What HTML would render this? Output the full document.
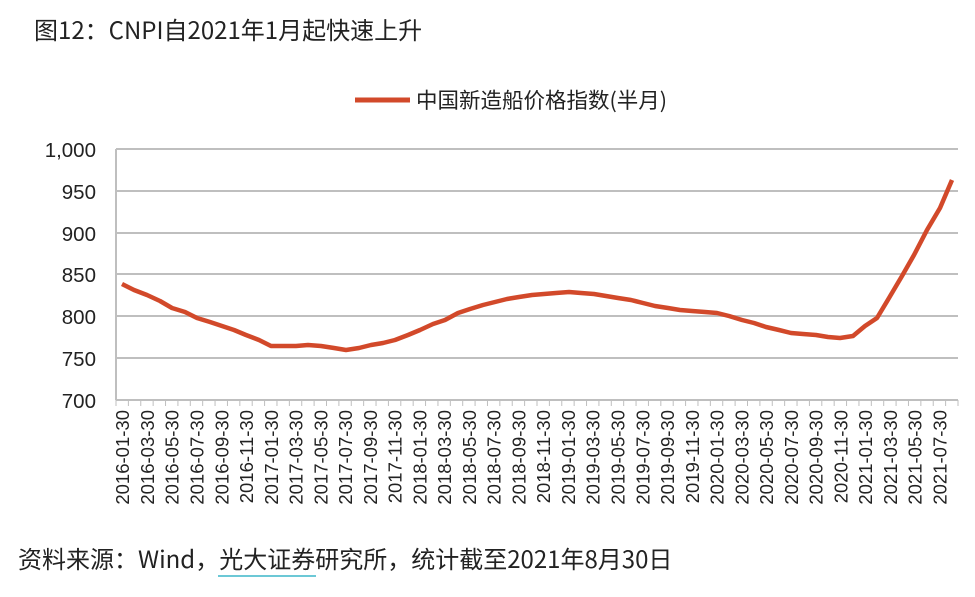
<!DOCTYPE html>
<html><head><meta charset="utf-8"><style>
body{margin:0;background:#fff;width:975px;height:592px;overflow:hidden;font-family:"Liberation Sans","Noto Sans CJK SC",sans-serif}
</style></head><body>
<svg width="975" height="592" xmlns="http://www.w3.org/2000/svg" font-family="Liberation Sans, Noto Sans CJK SC, sans-serif">
<text x="34" y="39" font-size="24" fill="#222" font-family="Noto Sans CJK SC, sans-serif">图12：CNPI自2021年1月起快速上升</text>
<line x1="355" y1="100" x2="410" y2="100" stroke="#d2492a" stroke-width="5"/>
<text x="416" y="108" font-size="21.5" fill="#222" font-family="Noto Sans CJK SC, sans-serif">中国新造船价格指数(半月)</text>
<g stroke="#bfbfbf" stroke-width="2">
<line x1="116" y1="149" x2="958" y2="149"/><line x1="116" y1="191" x2="958" y2="191"/>
<line x1="116" y1="233" x2="958" y2="233"/><line x1="116" y1="274" x2="958" y2="274"/>
<line x1="116" y1="316" x2="958" y2="316"/><line x1="116" y1="358" x2="958" y2="358"/>
<line x1="116" y1="400" x2="958" y2="400"/><line x1="116" y1="149" x2="116" y2="400"/>
</g>
<g id="ticks" stroke="#bfbfbf" stroke-width="1"></g>
<g font-size="20.5" fill="#222" text-anchor="end">
<text x="96" y="157">1,000</text><text x="96" y="199">950</text><text x="96" y="241">900</text>
<text x="96" y="282">850</text><text x="96" y="324">800</text><text x="96" y="366">750</text><text x="96" y="408">700</text>
</g>
<g id="xl" font-size="18.5" fill="#222" text-anchor="end"></g>
<polyline fill="none" stroke="#d2492a" stroke-width="4.5" stroke-linejoin="round" points="122,284 134,290 147,295 160,301 172,308 185,312 197,318 210,322 222,326 234,330 246,335 259,340 271,346 283,346 296,346 308,345 321,346 334,348 346,350 359,348 371,345 383,343 395,340 408,335 420,330 433,324 445,320 458,313 470,309 483,305 495,302 507,299 519,297 532,295 544,294 556,293 569,292 581,293 594,294 606,296 618,298 631,300 643,303 655,306 668,308 680,310 692,311 705,312 717,313 729,316 742,320 754,323 766,327 779,330 791,333 803,334 816,335 828,337 840,338 853,336 865,326 877,318 889,298 902,276 914,255 927,230 940,208 952,180"/>
<text x="18" y="568" font-size="24" fill="#222" font-family="Noto Sans CJK SC, sans-serif">资料来源：Wind，光大证券研究所，统计截至2021年8月30日</text>
<line x1="218" y1="576" x2="316" y2="576" stroke="#3cb6c8" stroke-width="1.5"/>
<script>
var t=document.getElementById('ticks'),xl=document.getElementById('xl'),ns='http://www.w3.org/2000/svg';
var w=842/68;
for(var i=0;i<=68;i++){var l=document.createElementNS(ns,'line');var x=116+w*i;l.setAttribute('x1',x);l.setAttribute('x2',x);l.setAttribute('y1',400);l.setAttribute('y2',406);t.appendChild(l);}
for(var k=0;k<34;k++){var y=2016+Math.floor(k/6),m=(k%6)*2+1;var s=y+'-'+(m<10?'0':'')+m+'-30';var x=116+w*(2*k+0.5)+7;var e=document.createElementNS(ns,'text');e.setAttribute('transform','translate('+x+',410) rotate(-90)');e.textContent=s;xl.appendChild(e);}
</script>
</svg>
</body></html>
